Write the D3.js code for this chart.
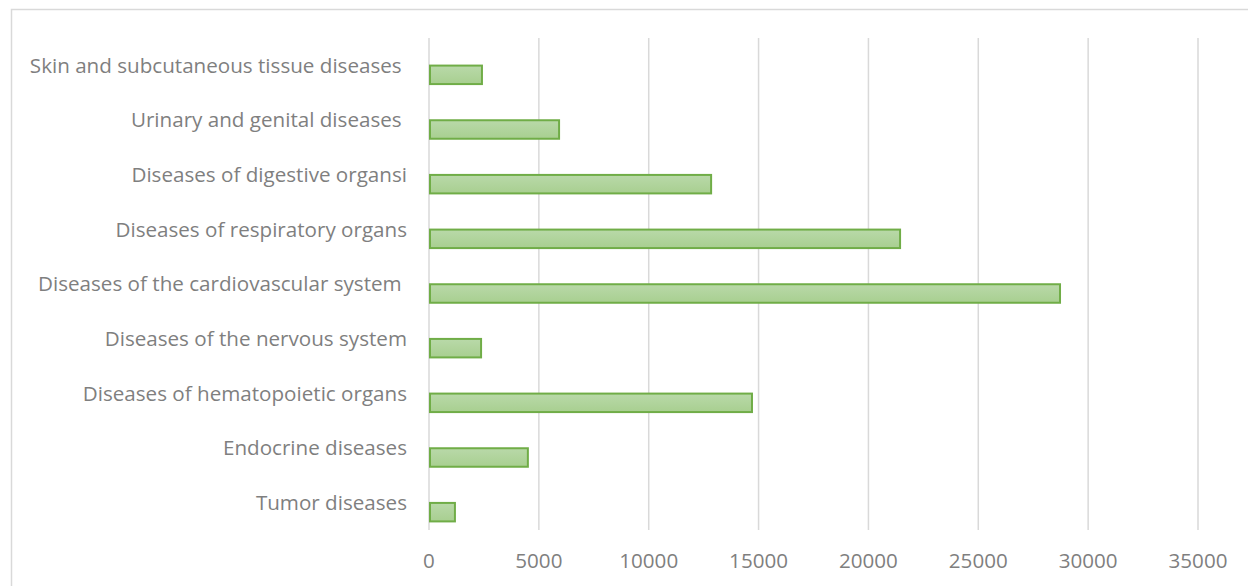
<!DOCTYPE html>
<html>
<head>
<meta charset="utf-8">
<script src="https://cdn.jsdelivr.net/npm/d3@7"></script>
<style>
  html, body { margin: 0; padding: 0; background: #fff; }
  svg { display: block; }
  text { font-family: "Open Sans", "Noto Sans", sans-serif; fill: #7f7f7f; white-space: pre; }
</style>
</head>
<body>
<svg id="chart" width="1248" height="586"></svg>
<script>
// Categories listed bottom to top as they appear on the axis
const categories = [
  "Tumor diseases",
  "Endocrine diseases",
  "Diseases of hematopoietic organs",
  "Diseases of the nervous system",
  "Diseases of the cardiovascular system ",
  "Diseases of respiratory organs",
  "Diseases of digestive organsi",
  "Urinary and genital diseases ",
  "Skin and subcutaneous tissue diseases "
];
const values = [1180, 4500, 14700, 2370, 28720, 21440, 12840, 5920, 2410];
const xTicks = [0, 5000, 10000, 15000, 20000, 25000, 30000, 35000];

const svg = d3.select("#chart");
const W = 1248, H = 586;

// chart frame
svg.append("path")
  .attr("d", `M11.5,${H} V9.5 H${W}`)
  .attr("fill", "none")
  .attr("stroke", "#d9d9d9")
  .attr("stroke-width", 1.5);

const plot = { left: 429, right: 1198, top: 38, bottom: 530 };

const x = d3.scaleLinear().domain([0, 35000]).range([plot.left, plot.right]);
const y = d3.scaleBand()
  .domain(categories.slice().reverse())
  .range([plot.top, plot.bottom]);

const defs = svg.append("defs");
const grad = defs.append("linearGradient")
  .attr("id", "barFill").attr("x1", 0).attr("y1", 0).attr("x2", 0).attr("y2", 1);
grad.append("stop").attr("offset", "0%").attr("stop-color", "#b9d9a9");
grad.append("stop").attr("offset", "100%").attr("stop-color", "#a8cf90");

// vertical gridlines
svg.append("g")
  .selectAll("line")
  .data(xTicks)
  .join("line")
  .attr("x1", d => x(d)).attr("x2", d => x(d))
  .attr("y1", plot.top).attr("y2", plot.bottom)
  .attr("stroke", "#d9d9d9")
  .attr("stroke-width", 1.5);

// bars sit in the lower part of each band
const barH = 18.5;
const barOffset = 9.5;
svg.append("g")
  .selectAll("rect")
  .data(categories.map((c, i) => ({ c, v: values[i] })))
  .join("rect")
  .attr("x", x(0) + 1)
  .attr("y", d => y(d.c) + y.bandwidth() / 2 + barOffset - barH / 2)
  .attr("width", d => x(d.v) - x(0) - 1)
  .attr("height", barH)
  .attr("fill", "url(#barFill)")
  .attr("stroke", "#70ad47")
  .attr("stroke-width", 2);

// pick a font size so the longest label spans about 372px
const probe = svg.append("text").attr("font-size", 20).text("Skin and subcutaneous tissue diseases");
const probeW = probe.node().getComputedTextLength();
probe.remove();
const fontSize = Math.min(22, 20 * 372 / probeW);

// category labels
svg.append("g")
  .selectAll("text")
  .data(categories)
  .join("text")
  .attr("x", 407)
  .attr("y", d => y(d) + y.bandwidth() / 2)
  .attr("dy", "0.35em")
  .attr("text-anchor", "end")
  .attr("font-size", fontSize)
  .text(d => d);

// x axis tick labels
svg.append("g")
  .selectAll("text")
  .data(xTicks)
  .join("text")
  .attr("x", d => x(d))
  .attr("y", 561)
  .attr("dy", "0.35em")
  .attr("text-anchor", "middle")
  .attr("font-size", fontSize)
  .text(d => d);
</script>
</body>
</html>
